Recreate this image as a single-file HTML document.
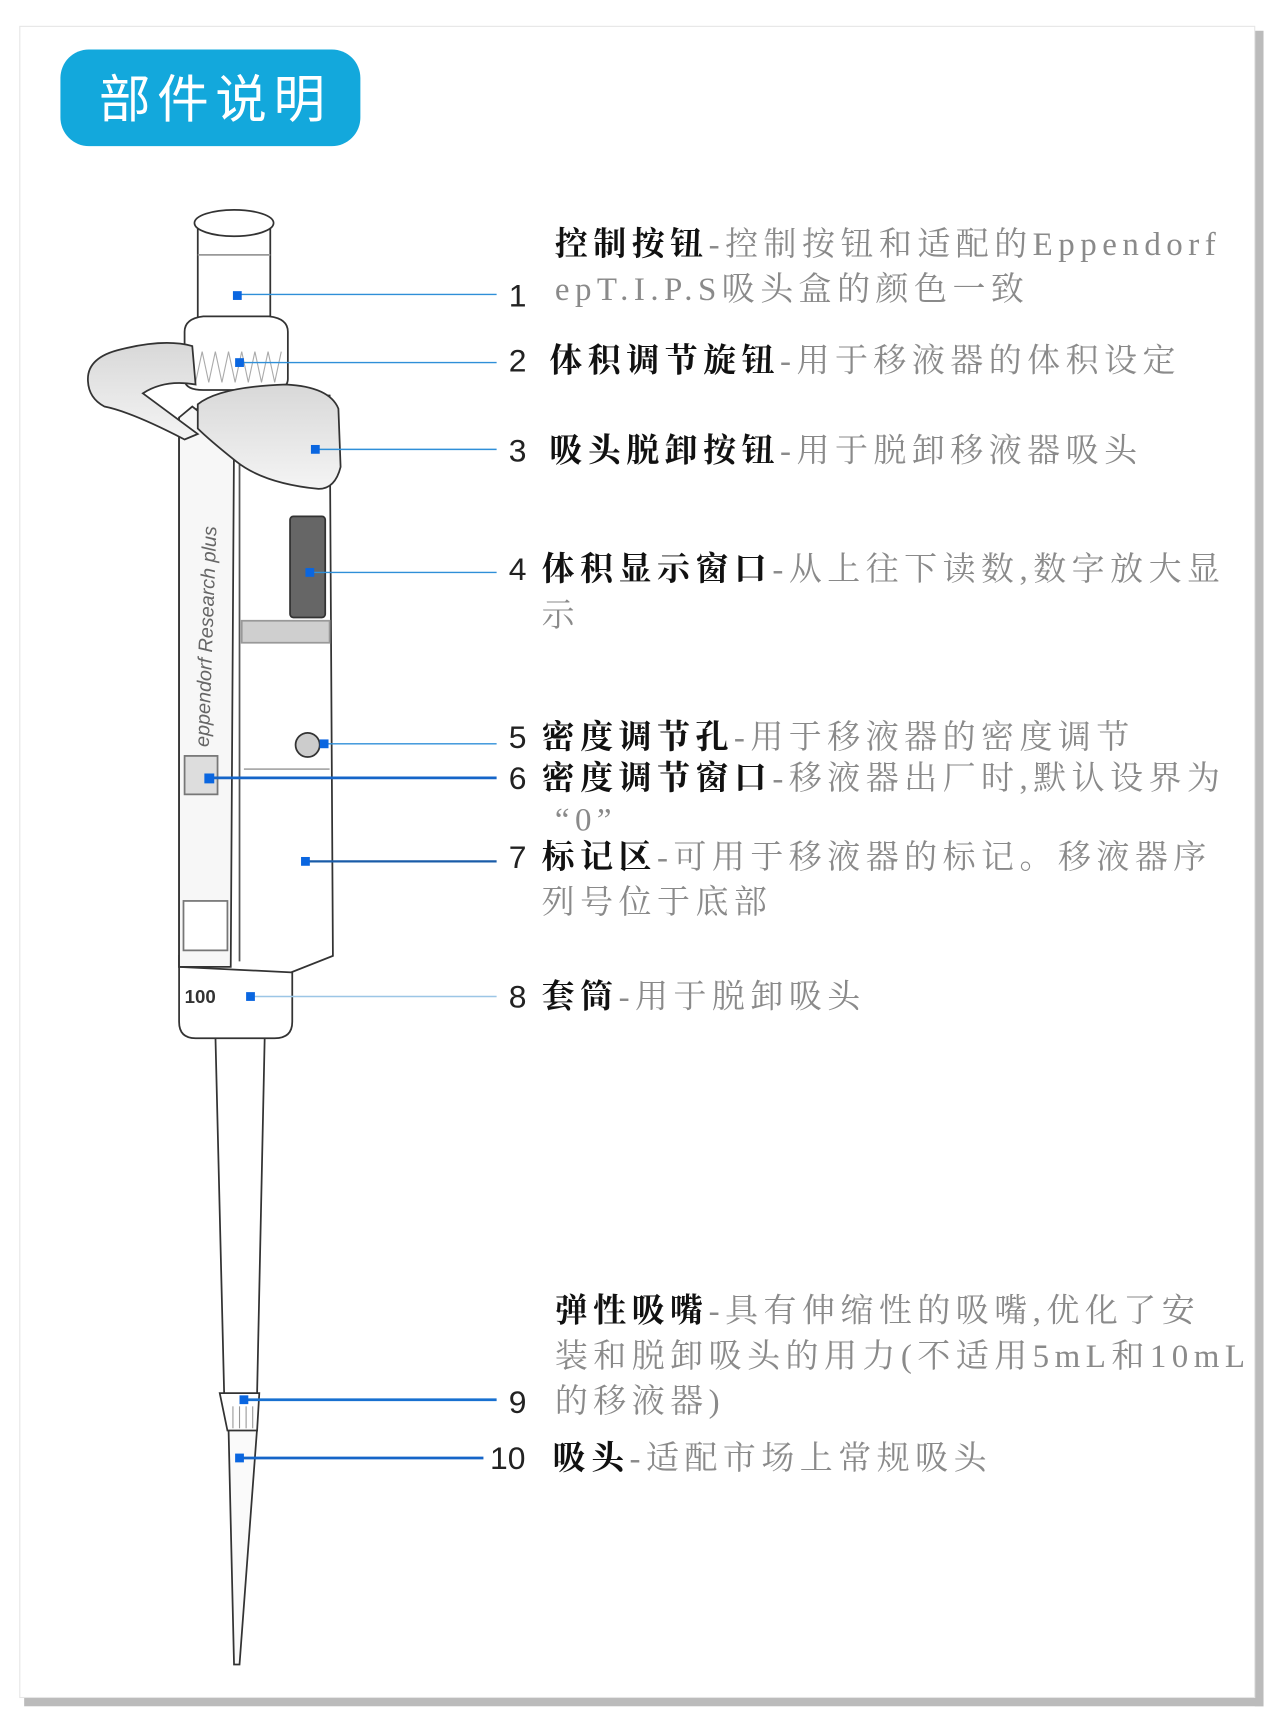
<!DOCTYPE html>
<html><head><meta charset="utf-8"><style>
html,body{margin:0;padding:0;background:#fff;}
svg{display:block;}
.n{font-family:"Liberation Sans",sans-serif;font-size:29px;fill:#222;}
.b{font-family:"Liberation Serif","Noto Serif CJK SC",serif;font-size:30px;font-weight:bold;fill:#111;letter-spacing:5px;}
.g{font-family:"Liberation Serif","Noto Serif CJK SC",serif;font-size:30px;font-weight:normal;fill:#8a8a8a;letter-spacing:5px;}
</style></head><body>
<svg width="1280" height="1731" viewBox="0 0 1165 1575.5" preserveAspectRatio="none" xmlns="http://www.w3.org/2000/svg">
<defs>
<linearGradient id="gr" x1="0" x2="0" y1="0" y2="1"><stop offset="0" stop-color="#d8d8d8"/><stop offset="1" stop-color="#f4f4f4"/></linearGradient>
</defs>
<rect x="0" y="0" width="1165" height="1576" fill="#fff"/>
<rect x="1142" y="28" width="8" height="1525" fill="#bbb"/>
<rect x="22" y="1545" width="1128" height="8" fill="#bbb"/>
<rect x="18" y="24" width="1124" height="1521" fill="#fff" stroke="#e6e6e6" stroke-width="1"/>
<rect x="55" y="45" width="273" height="88" rx="26" fill="#13a8dc"/>
<text x="90" y="107" font-family="'Noto Sans CJK SC',sans-serif" font-size="47" fill="#fff" letter-spacing="6">部件说明</text>

<g stroke="#333" stroke-width="1.6" fill="#fff">
<path d="M208 1300 L234 1300 L218 1515 L213 1515 Z" fill="#fafafa"/>
<path d="M200 1268 L236 1268 L234 1302 L207 1302 Z"/>
<g stroke="#999" stroke-width="1"><line x1="212" y1="1280" x2="212" y2="1300"/><line x1="218" y1="1280" x2="218" y2="1300"/><line x1="224" y1="1280" x2="224" y2="1300"/><line x1="230" y1="1280" x2="230" y2="1300"/></g>
<path d="M196 940 L241 940 L234 1268 L204 1268 Z"/>
<path d="M163 870 L266 870 L266 930 Q266 945 250 945 L178 945 Q163 945 163 930 Z"/>
<path d="M163 380 L205 360 L300 360 L303 870 L265 885 L163 880 Z" fill="#fff"/>
<path d="M163 380 L175 370 L213 400 L210 880 L163 880 Z" fill="#f7f7f7"/>
<line x1="218" y1="420" x2="218" y2="875" stroke="#555"/>
<line x1="222" y1="700" x2="300" y2="700" stroke="#aaa"/>
<rect x="220" y="565" width="80" height="20" fill="#cfcfcf" stroke="#999"/>
<rect x="167" y="820" width="40" height="45" fill="#fff" stroke="#777"/>
<rect x="168" y="688" width="30" height="35" fill="#ddd" stroke="#777"/>
<circle cx="280" cy="678" r="11" fill="#ccc"/>
<rect x="264" y="470" width="32" height="92" rx="3" fill="#666" stroke="#333"/>
<path d="M180 205 L246 205 L246 300 L180 300 Z"/>
<ellipse cx="213" cy="203" rx="36" ry="12"/>
<line x1="180" y1="232" x2="246" y2="232" stroke="#999"/>
<path d="M168 302 Q168 290 185 288 L245 288 Q262 290 262 302 L262 345 Q262 355 245 355 L185 355 Q168 355 168 345 Z"/>
<g stroke="#aaa" stroke-width="1"><path d="M172 320 L178 348 L184 320 L190 348 L196 320 L202 348 L208 320 L214 348 L220 320 L226 348 L232 320 L238 348 L244 320 L250 348 L256 320"/></g>
<path d="M80 345 Q80 325 110 318 Q150 308 175 315 L178 350 Q150 345 130 358 L180 395 L168 400 Q120 375 95 370 Q80 362 80 345 Z" fill="url(#gr)"/>
<path d="M180 368 Q200 352 260 350 Q300 352 308 372 L310 425 Q305 445 290 445 Q240 440 215 420 Q190 400 180 390 Z" fill="url(#gr)"/>
</g>
<text x="168" y="913" font-family="'Liberation Sans',sans-serif" font-size="17" font-weight="bold" fill="#333">100</text>
<text transform="translate(190,680) rotate(-88)" font-family="'Liberation Sans',sans-serif" font-size="18" font-style="italic" fill="#666">eppendorf  Research plus</text>

<g stroke="#2f8fd8" stroke-width="1.3">
<line x1="215" y1="268" x2="452" y2="268"/>
<line x1="218" y1="330" x2="452" y2="330"/>
<line x1="287" y1="409" x2="452" y2="409"/>
<line x1="282" y1="521" x2="452" y2="521"/>
<line x1="295" y1="677" x2="452" y2="677"/>
<line x1="190" y1="708" x2="452" y2="708" stroke-width="2.5" stroke="#1565c8"/>
<line x1="278" y1="784" x2="452" y2="784" stroke-width="2" stroke="#1a5ca8"/>
<line x1="228" y1="907" x2="452" y2="907" stroke="#9cc6e6"/>
<line x1="222" y1="1274" x2="452" y2="1274" stroke-width="2.5" stroke="#1870d0"/>
<line x1="218" y1="1327" x2="440" y2="1327" stroke-width="2.5" stroke="#1565c8"/>
</g>
<g fill="#0a66e0">
<rect x="212" y="265" width="8" height="8"/><rect x="214" y="326" width="8" height="8"/>
<rect x="283" y="405" width="8" height="8"/><rect x="278" y="517" width="8" height="8"/>
<rect x="291" y="673" width="8" height="8"/><rect x="186" y="704" width="9" height="9"/>
<rect x="274" y="780" width="8" height="8"/><rect x="224" y="903" width="8" height="8"/>
<rect x="218" y="1270" width="8" height="8"/><rect x="214" y="1323" width="8" height="8"/>
</g>

<text class="b" x="505" y="232">控制按钮<tspan class="g">-控制按钮和适配的Eppendorf</tspan></text>
<text class="g" x="505" y="273">epT.I.P.S吸头盒的颜色一致</text>
<text class="n" x="463" y="279">1</text>
<text class="n" x="463" y="338">2</text><text class="b" x="500" y="338">体积调节旋钮<tspan class="g">-用于移液器的体积设定</tspan></text>
<text class="n" x="463" y="420">3</text><text class="b" x="500" y="420">吸头脱卸按钮<tspan class="g">-用于脱卸移液器吸头</tspan></text>
<text class="n" x="463" y="528">4</text><text class="b" x="493" y="528">体积显示窗口<tspan class="g">-从上往下读数,数字放大显</tspan></text>
<text class="g" x="493" y="570">示</text>
<text class="n" x="463" y="681">5</text><text class="b" x="493" y="681">密度调节孔<tspan class="g">-用于移液器的密度调节</tspan></text>
<text class="n" x="463" y="718">6</text><text class="b" x="493" y="718">密度调节窗口<tspan class="g">-移液器出厂时,默认设界为</tspan></text>
<text class="g" x="505" y="756">“0”</text>
<text class="n" x="463" y="790">7</text><text class="b" x="493" y="790">标记区<tspan class="g">-可用于移液器的标记。移液器序</tspan></text>
<text class="g" x="493" y="831">列号位于底部</text>
<text class="n" x="463" y="917">8</text><text class="b" x="493" y="917">套筒<tspan class="g">-用于脱卸吸头</tspan></text>
<text class="b" x="505" y="1203">弹性吸嘴<tspan class="g">-具有伸缩性的吸嘴,优化了安</tspan></text>
<text class="g" x="505" y="1244">装和脱卸吸头的用力(不适用5mL和10mL</text>
<text class="g" x="505" y="1285">的移液器)</text>
<text class="n" x="463" y="1286">9</text>
<text class="n" x="446" y="1337">10</text><text class="b" x="503" y="1337">吸头<tspan class="g">-适配市场上常规吸头</tspan></text>
</svg>
</body></html>
